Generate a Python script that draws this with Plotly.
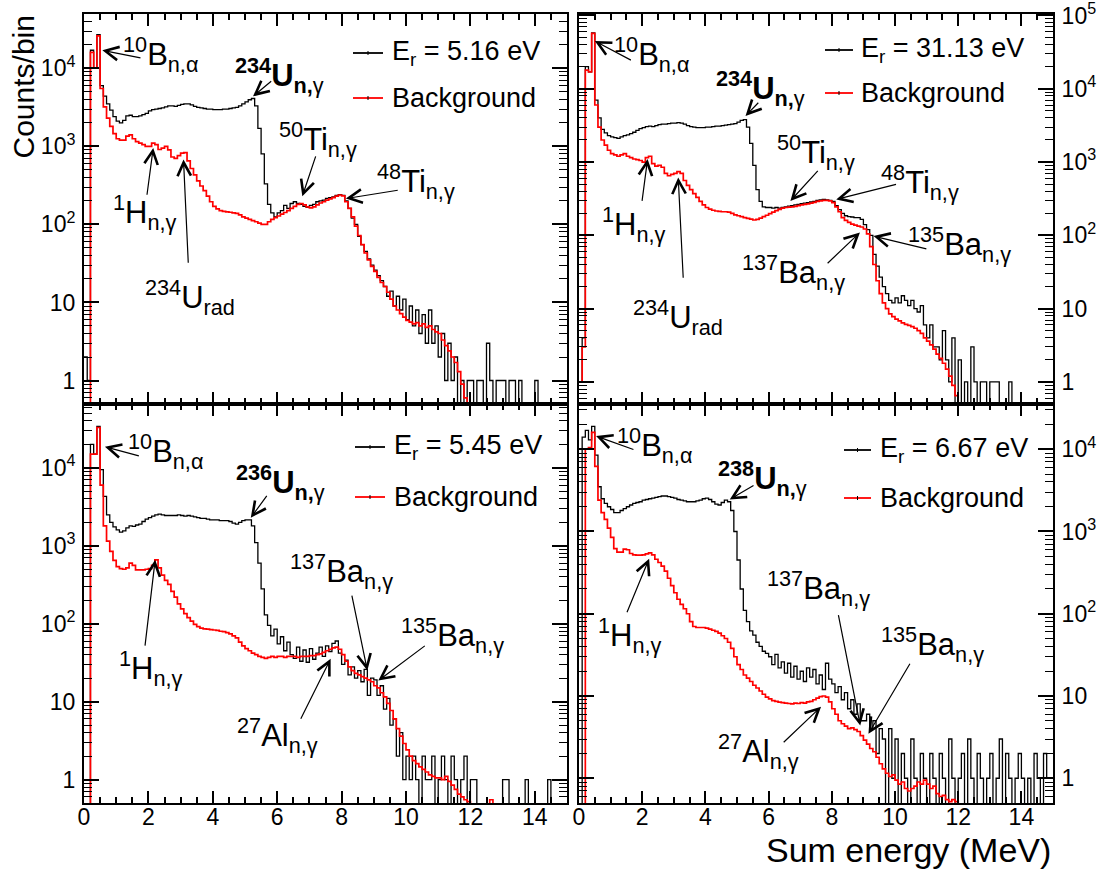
import math
import plotly.graph_objects as go

# ---------------- data: counts per 0.1 MeV bin, 0 .. 15 MeV ----------------
BIN_WIDTH = 0.1
N_BINS = 150

tl_sig = [  # 234U, E_r = 5.16 eV
    2, 1, 17000, 10000, 27000, 6000, 4400, 3500, 2900, 2400,
    2100, 2000, 2150, 2450, 2500, 2400, 2400, 2450, 2550, 2650,
    2850, 2950, 3000, 3050, 3100, 3200, 3300, 3300, 3250, 3350,
    3450, 3500, 3500, 3400, 3250, 3150, 3100, 3050, 3000, 3000,
    2950, 2950, 2950, 3000, 3000, 3050, 3100, 3150, 3300, 3500,
    3700, 3950, 4100, 3300, 1700, 800, 330, 180, 140, 125,
    140, 150, 175, 160, 185, 195, 185, 180, 170, 165,
    175, 180, 195, 200, 205, 215, 220, 225, 235, 240,
    235, 200, 160, 120, 100, 70, 55, 45, 36, 30,
    26, 22, 19, 16, 12, 14, 9, 12, 8, 11,
    6, 9, 5, 8, 4, 7, 3, 8, 3, 5,
    2, 4, 1, 3, 1, 2, 0, 1, 0, 1,
    1, 0, 1, 1, 0, 3, 1, 0, 1, 1,
    1, 0, 1, 1, 0, 1, 0, 0, 0, 0,
    1, 0, 0, 0, 0, 0, 0, 0, 0, 0,
]
tl_bkg = [
    0, 0, 16000, 10000, 26000, 5500, 3200, 2300, 1800, 1450,
    1250, 1200, 1200, 1350, 1400, 1250, 1150, 1100, 1050, 1000,
    1000, 1100, 1050, 910, 950, 1000, 900, 730, 700, 760,
    820, 830, 650, 520, 430, 360, 310, 270, 230, 195,
    170, 158, 150, 147, 145, 143, 140, 138, 132, 125,
    120, 116, 112, 108, 104, 100, 100, 108, 116, 122,
    128, 135, 142, 150, 160, 170, 180, 185, 178, 168,
    163, 168, 178, 188, 195, 205, 212, 220, 230, 238,
    232, 195, 160, 125, 95, 72, 55, 43, 35, 29,
    25, 21, 18, 16, 13.5, 11, 9, 8, 7.2, 6.5,
    5.9, 5.6, 5.3, 5.5, 5.0, 5.3, 4.8, 5.0, 4.5, 4.2,
    4.0, 3.3, 2.8, 2.4, 2.0, 1.7, 1.3, 0.9, 0.6, 0,
    0, 0, 0, 0, 0, 0, 0, 0, 0, 0,
    0, 0, 0, 0, 0, 0, 0, 0, 0, 0,
    0, 0, 0, 0, 0, 0, 0, 0, 0, 0,
]
tr_sig = [  # 234U, E_r = 31.13 eV
    1, 4, 20000, 17000, 58000, 7000, 4000, 2800, 2500, 2300,
    2200, 2150, 2100, 2200, 2300, 2350, 2450, 2550, 2700, 2850,
    2950, 3050, 3100, 3050, 3150, 3250, 3300, 3300, 3350, 3400,
    3400, 3450, 3400, 3300, 3150, 3050, 3000, 2950, 2950, 2950,
    3000, 3000, 3050, 3100, 3100, 3150, 3200, 3250, 3300, 3350,
    3500, 3700, 3800, 3000, 1800, 900, 420, 290, 245, 240,
    240, 235, 240, 235, 240, 245, 250, 255, 260, 265,
    270, 275, 280, 285, 290, 300, 305, 310, 305, 300,
    290, 255, 225, 200, 185, 180, 178, 175, 175, 165,
    140, 120, 100, 55, 38, 27, 20, 16, 13, 12,
    14, 12, 15, 13, 11, 13, 10, 9, 11, 6,
    4, 6, 3, 3, 2, 5, 2, 1, 4, 0,
    2, 0, 1, 0, 3, 1, 0, 1, 1, 0,
    1, 1, 1, 0, 0, 0, 1, 0, 0, 0,
    0, 0, 0, 0, 0, 0, 0, 0, 0, 0,
]
tr_bkg = [
    1, 3, 18000, 17000, 57000, 6000, 3000, 2000, 1700, 1450,
    1300, 1250, 1200, 1250, 1300, 1200, 1150, 1100, 1080, 1050,
    1000, 1150, 1200, 950, 880, 900, 850, 700, 650, 680,
    700, 740, 700, 560, 480, 420, 370, 330, 290, 260,
    240, 228, 220, 215, 212, 210, 210, 208, 200, 190,
    185, 180, 175, 170, 166, 162, 165, 172, 180, 188,
    198, 208, 218, 226, 235, 240, 242, 245, 248, 255,
    260, 265, 268, 275, 282, 290, 295, 300, 300, 295,
    280, 245, 210, 175, 160, 150, 142, 138, 134, 130,
    122, 105, 70, 40, 24, 16, 12, 10, 8.5, 7.8,
    7.2, 6.8, 6.4, 6.1, 5.9, 5.7, 5.4, 5.0, 4.6, 4.0,
    3.6, 3.2, 2.8, 2.4, 2.1, 1.8, 1.5, 1.2, 0.9, 0.65,
    0, 0, 0, 0, 0, 0, 0, 0, 0, 0,
    0, 0, 0, 0, 0, 0, 0, 0, 0, 0,
    0, 0, 0, 0, 0, 0, 0, 0, 0, 0,
]
bl_sig = [  # 236U, E_r = 5.45 eV
    0, 0, 20000, 15000, 34000, 9500, 4300, 2500, 2000, 1750,
    1600, 1500, 1550, 1700, 1800, 1780, 1850, 1900, 2050, 2200,
    2300, 2400, 2500, 2550, 2500, 2450, 2450, 2450, 2450, 2500,
    2450, 2400, 2450, 2400, 2350, 2300, 2250, 2250, 2200, 2150,
    2150, 2150, 2100, 2100, 2100, 2050, 1950, 1900, 2000, 2100,
    2150, 2150, 1800, 1100, 600, 280, 130, 95, 70, 85,
    55, 68, 45, 58, 40, 36, 50, 33, 46, 32,
    48, 35, 42, 50, 38, 52, 44, 56, 60, 42,
    30, 34, 22, 28, 20, 25, 18, 26, 12, 20,
    19, 12, 16, 8, 11, 5, 6, 2, 4, 1,
    2, 1, 2, 1, 0, 2, 1, 1, 2, 0,
    1, 2, 1, 0, 2, 1, 0, 1, 2, 0,
    1, 1, 0, 0, 0, 0, 0, 0, 0, 0,
    1, 1, 0, 0, 0, 0, 0, 1, 0, 0,
    0, 0, 0, 0, 1, 0, 0, 0, 0, 0,
]
bl_bkg = [
    0, 0, 15000, 15000, 33000, 6000, 1800, 1150, 850, 650,
    540, 510, 500, 520, 600, 560, 490, 490, 490, 500,
    510, 560, 660, 520, 420, 360, 320, 260, 220, 180,
    155, 135, 120, 108, 98, 92, 88, 86, 85, 84,
    83, 82, 80, 79, 77, 74, 70, 66, 58, 52,
    48, 45, 42, 40, 38, 37, 36, 37, 38, 37,
    38, 38, 37, 38, 38, 38, 37, 38, 38, 38,
    39, 39, 40, 41, 43, 45, 47, 49, 50, 47,
    40, 33, 28, 25, 23, 22, 21, 20, 19, 18,
    16, 15, 13, 11.5, 9.5, 7.7, 6, 4.5, 3.6, 2.9,
    2.4, 2.0, 1.75, 1.6, 1.45, 1.35, 1.25, 1.15, 1.1, 1.05,
    1.05, 1.0, 1.1, 0.95, 0.85, 0.75, 0.65, 0.6, 0.55, 0.52,
    0, 0, 0, 0, 0, 0, 0.55, 0, 0, 0,
    0, 0, 0, 0, 0, 0, 0, 0, 0, 0,
    0, 0, 0, 0, 0, 0, 0, 0, 0, 0,
]
br_sig = [  # 238U, E_r = 6.67 eV
    0, 14000, 17000, 13000, 19000, 8500, 3500, 2500, 2200, 2000,
    1850, 1700, 1700, 1800, 1900, 2000, 2100, 2200, 2250, 2300,
    2400, 2450, 2500, 2550, 2600, 2650, 2700, 2700, 2650, 2600,
    2550, 2450, 2400, 2350, 2300, 2300, 2300, 2350, 2400, 2500,
    2550, 2450, 2300, 2150, 2100, 2250, 2400, 2300, 1800, 1000,
    450, 200, 110, 80, 62, 55, 45, 40, 35, 33,
    30, 24, 32, 22, 26, 19, 25, 17, 23, 16,
    20, 15, 22, 17, 21, 14, 18, 12, 25, 16,
    14, 11, 13, 9, 11, 7, 9, 6, 8, 5,
    5, 6, 4, 5, 2, 4, 3, 0, 4, 1,
    3, 0, 2, 1, 0, 3, 1, 0, 2, 1,
    0, 2, 1, 0, 2, 1, 0, 3, 1, 0,
    1, 2, 0, 3, 1, 0, 2, 1, 0, 1,
    2, 0, 1, 3, 0, 2, 1, 0, 1, 2,
    1, 0, 1, 0, 2, 1, 0, 2, 1, 1,
]
br_bkg = [
    0, 0, 10000, 10500, 16000, 6200, 2400, 1700, 1400, 1100,
    850, 620, 560, 560, 610, 600, 540, 520, 515, 515,
    520, 535, 550, 520, 460, 420, 380, 330, 270, 220,
    180, 150, 130, 115, 100, 80, 70, 68, 68, 68,
    67, 65, 63, 61, 58, 54, 50, 45, 38, 30,
    24, 21, 18, 16.5, 15, 13.5, 12.5, 11.5, 10.5, 9.7,
    9.2, 8.8, 8.6, 8.4, 8.3, 8.2, 8.1, 8.0, 8.2, 8.1,
    8.3, 8.2, 8.5, 8.6, 9.0, 9.4, 9.8, 10, 9.7, 8.5,
    7.0, 6.0, 5.0, 4.6, 4.3, 4.0, 4.1, 3.9, 3.7, 3.3,
    2.9, 2.6, 2.3, 2.1, 1.8, 1.5, 1.3, 1.15, 1.05, 1.1,
    0.95, 0.85, 0.9, 0.75, 0.7, 0.75, 0.8, 0.9, 0.85, 0.95,
    0.85, 0.75, 0.8, 0.65, 0.6, 0.62, 0.55, 0.52, 0.55, 0.52,
    0, 0, 0, 0, 0, 0, 0, 0, 0, 0,
    0, 0, 0, 0, 0, 0, 0, 0, 0, 0,
    0, 0, 0, 0, 0, 0, 0, 0, 0, 0,
]

resonance_labels = ["E<sub>r</sub> = 5.16 eV", "E<sub>r</sub> = 31.13 eV",
                    "E<sub>r</sub> = 5.45 eV", "E<sub>r</sub> = 6.67 eV"]
bkg_label = "Background"

x_tick_vals = [0, 2, 4, 6, 8, 10, 12, 14]
y_tick_vals = [1, 10, 100, 1000, 10000, 100000]
y_tick_text = ["1", "10", "10<sup>2</sup>", "10<sup>3</sup>", "10<sup>4</sup>", "10<sup>5</sup>"]

# ---------------- layout geometry (pixels of the 1104x871 page) ----------------
W, H = 1104, 871
FONT = "Liberation Sans, Arial, sans-serif"
LX0, LX1 = 84, 567
RX0, RX1 = 579, 1053
TY0, TY1 = 14, 404
BY0, BY1 = 404, 803


def px(x):
    return x / W


def py(y):
    return 1 - y / H


edges = [round(i * BIN_WIDTH, 1) for i in range(N_BINS + 1)]
FLOOR = 0.05  # empty bins drawn below the frame (clipped), as ROOT does


def step_y(vals):
    v = [val if val > 0 else FLOOR for val in vals]
    return v + [v[-1]]


panels = [
    dict(sig=tl_sig, bkg=tl_bkg, xa="x", ya="y", xd=(LX0, LX1), yd=(TY0, TY1),
         yr=(math.log10(0.5), 4.695), side="left", xlabels=False),
    dict(sig=tr_sig, bkg=tr_bkg, xa="x2", ya="y2", xd=(RX0, RX1), yd=(TY0, TY1),
         yr=(math.log10(0.5), 5.02), side="right", xlabels=False),
    dict(sig=bl_sig, bkg=bl_bkg, xa="x3", ya="y3", xd=(LX0, LX1), yd=(BY0, BY1),
         yr=(math.log10(0.5), 4.82), side="left", xlabels=True),
    dict(sig=br_sig, bkg=br_bkg, xa="x4", ya="y4", xd=(RX0, RX1), yd=(BY0, BY1),
         yr=(math.log10(0.5), 4.55), side="right", xlabels=True),
]

fig = go.Figure()

minor_y = []
for k in range(-1, 6):
    for m in range(2, 10):
        v = m * 10 ** k
        if v >= 0.5:
            minor_y.append(v)

for i, p in enumerate(panels):
    fig.add_trace(go.Scatter(x=edges, y=step_y(p["sig"]), mode="lines", line_shape="hv",
                             line=dict(color="black", width=1.3), name=resonance_labels[i],
                             xaxis=p["xa"], yaxis=p["ya"], showlegend=False))
    fig.add_trace(go.Scatter(x=edges, y=step_y(p["bkg"]), mode="lines", line_shape="hv",
                             line=dict(color="#ff0000", width=1.7), name=bkg_label,
                             xaxis=p["xa"], yaxis=p["ya"], showlegend=False))
    sfx = "" if i == 0 else str(i + 1)
    fig.layout["xaxis" + sfx] = dict(
        domain=[px(p["xd"][0]), px(p["xd"][1])], anchor=p["ya"], range=[0, 15],
        showline=True, linecolor="black", linewidth=2, mirror="ticks",
        ticks="inside", ticklen=12, tickwidth=1.5, tickcolor="black",
        tickvals=x_tick_vals, showticklabels=p["xlabels"],
        tickfont=dict(family=FONT, size=23, color="black"), ticklabelstandoff=-8,
        minor=dict(ticks="inside", ticklen=6, tickwidth=1.5, tickcolor="black", dtick=0.5, tick0=0),
        showgrid=False, zeroline=False, fixedrange=True, automargin=False)
    ntick = 6 if i == 1 else 5
    fig.layout["yaxis" + sfx] = dict(
        domain=[py(p["yd"][1]), py(p["yd"][0])], anchor=p["xa"], type="log",
        range=list(p["yr"]), side=p["side"],
        showline=True, linecolor="black", linewidth=2, mirror="ticks",
        ticks="inside", ticklen=15, tickwidth=1.5, tickcolor="black",
        tickmode="array", tickvals=y_tick_vals[:ntick], ticktext=y_tick_text[:ntick],
        tickfont=dict(family=FONT, size=23, color="black"), ticklabelstandoff=2,
        ticklabeloverflow="allow",
        minor=dict(ticks="inside", ticklen=8, tickwidth=1.2, tickcolor="black",
                   tickmode="array", tickvals=minor_y),
        showgrid=False, zeroline=False, fixedrange=True, automargin=False)

# ---------------- isotope labels and arrows ----------------
B10 = "<sup>10</sup>B<sub>n,α</sub>"
H1 = "<sup>1</sup>H<sub>n,γ</sub>"
U234r = "<sup>234</sup>U<sub>rad</sub>"
Ti50 = "<sup>50</sup>Ti<sub>n,γ</sub>"
Ti48 = "<sup>48</sup>Ti<sub>n,γ</sub>"
Ba135 = "<sup>135</sup>Ba<sub>n,γ</sub>"
Ba137 = "<sup>137</sup>Ba<sub>n,γ</sub>"
Al27 = "<sup>27</sup>Al<sub>n,γ</sub>"


def Ung(a):
    return "<b><sup>%s</sup>U<sub>n,</sub></b><sub>γ</sub>" % a


labels = [
    # panel, text, x (MeV), log10(y) of text middle, arrow tail (x, logy), arrow head (x, logy)
    (0, B10, 1.15, 4.17, (1.8, 4.13), (0.57, 4.23)),
    (0, Ung("234"), 4.62, 3.91, (5.86, 3.85), (5.25, 3.64)),
    (0, Ti50, 6.0, 3.09, (7.21, 2.89), (6.78, 2.36)),
    (0, Ti48, 9.05, 2.55, (9.79, 2.44), (8.13, 2.33)),
    (0, H1, 0.83, 2.15, (1.95, 2.36), (2.15, 2.98)),
    (0, U234r, 1.84, 1.06, (3.24, 1.49), (3.09, 2.83)),
    (1, B10, 1.04, 4.47, (1.69, 4.38), (0.5, 4.65)),
    (1, Ung("234"), 4.27, 4.01, (5.72, 3.83), (5.27, 3.63)),
    (1, Ti50, 6.2, 3.13, (7.6, 2.9), (6.69, 2.47)),
    (1, Ti48, 9.48, 2.72, (10.08, 2.70), (8.14, 2.49)),
    (1, Ba135, 10.34, 1.88, (11.04, 1.81), (9.32, 1.99)),
    (1, Ba137, 5.08, 1.49, (7.82, 1.6), (8.89, 2.04)),
    (1, H1, 0.67, 2.15, (1.99, 2.45), (2.17, 3.04)),
    (1, U234r, 1.63, 0.88, (3.3, 1.4), (3.14, 2.79)),
    (2, B10, 1.31, 4.21, (1.75, 4.15), (0.65, 4.27)),
    (2, Ung("236"), 4.65, 3.81, (5.71, 3.66), (5.18, 3.36)),
    (2, Ba137, 6.32, 2.67, (8.31, 2.38), (8.8, 1.40)),
    (2, Ba135, 9.77, 1.85, (10.63, 1.73), (9.14, 1.27)),
    (2, Al27, 4.69, 0.57, (6.71, 0.76), (7.66, 1.55)),
    (2, H1, 1.03, 1.42, (1.89, 1.70), (2.21, 2.82)),
    (3, B10, 1.13, 4.04, (1.77, 3.99), (0.54, 4.16)),
    (3, Ung("238"), 4.34, 3.65, (5.57, 3.57), (4.77, 3.39)),
    (3, Ba137, 5.89, 2.31, (8.2, 2.0), (8.9, 0.64)),
    (3, Ba135, 9.49, 1.62, (10.5, 1.41), (9.16, 0.54)),
    (3, Al27, 4.34, 0.32, (6.43, 0.42), (7.66, 0.87)),
    (3, H1, 0.54, 1.74, (1.5, 2.0), (2.22, 2.67)),
]

annotations = []
for pi, text, tx, ty, tail, head in labels:
    p = panels[pi]
    annotations.append(dict(text=text, x=tx, y=ty, xref=p["xa"], yref=p["ya"],
                            xanchor="left", yanchor="middle", showarrow=False,
                            font=dict(family=FONT, size=31, color="black")))
    annotations.append(dict(text="", x=head[0], y=head[1], xref=p["xa"], yref=p["ya"],
                            ax=tail[0], ay=tail[1], axref=p["xa"], ayref=p["ya"],
                            showarrow=True, arrowhead=5, arrowsize=2.2, arrowwidth=1.2,
                            arrowcolor="black", standoff=0, startstandoff=0))

# ---------------- legends ----------------
legend_pos = [  # line x0, x1, text x, y black, y red (pixels)
    (353, 383, 390, 53, 98),
    (825, 853, 859, 50, 93),
    (355, 385, 392, 447, 497),
    (844, 871, 878, 450, 498),
]
shapes = []
for i, (x0, x1, xt, yb, yrd) in enumerate(legend_pos):
    for yy, col, txt in ((yb, "black", resonance_labels[i]), (yrd, "#ff0000", bkg_label)):
        shapes.append(dict(type="line", xref="paper", yref="paper", x0=px(x0), x1=px(x1),
                           y0=py(yy), y1=py(yy), line=dict(color=col, width=1.8)))
        xm = (x0 + x1) / 2
        shapes.append(dict(type="line", xref="paper", yref="paper", x0=px(xm), x1=px(xm),
                           y0=py(yy - 2), y1=py(yy + 2), line=dict(color="black", width=1)))
        annotations.append(dict(text=txt, x=px(xt), y=py(yy), xref="paper", yref="paper",
                                xanchor="left", yanchor="middle", showarrow=False,
                                font=dict(family=FONT, size=27, color="black")))

# axis titles
annotations.append(dict(text="Counts/bin", x=px(23), y=py(14), xref="paper", yref="paper",
                        textangle=-90, xanchor="center", yanchor="top", showarrow=False,
                        font=dict(family=FONT, size=30, color="black")))
annotations.append(dict(text="Sum energy (MeV)", x=px(1053), y=py(850), xref="paper", yref="paper",
                        xanchor="right", yanchor="middle", showarrow=False,
                        font=dict(family=FONT, size=34, color="black")))

fig.update_layout(width=W, height=H, margin=dict(l=0, r=0, t=0, b=0, pad=0),
                  paper_bgcolor="white", plot_bgcolor="white",
                  annotations=annotations, shapes=shapes, showlegend=False,
                  font=dict(family=FONT, color="black"))

fig.write_html("out.html", config={"displayModeBar": False},
               post_script="document.body.style.margin='0px';document.body.style.padding='0px';")
